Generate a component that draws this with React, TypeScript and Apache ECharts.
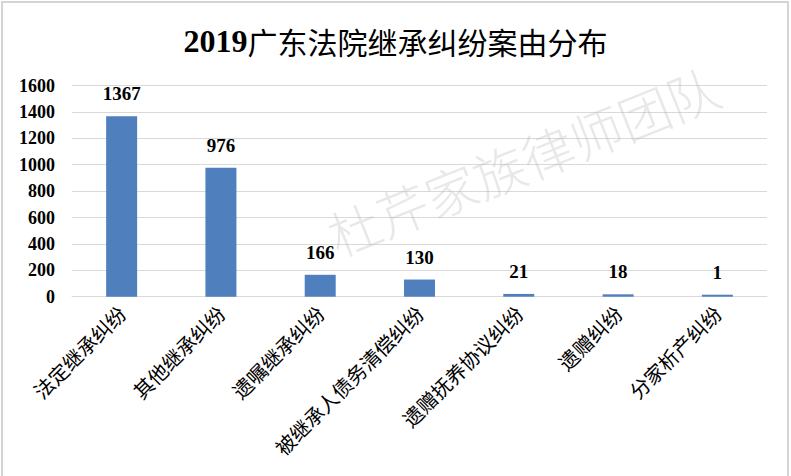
import React, { useEffect, useRef } from "react";
import * as echarts from "echarts";

const categories = ["法定继承纠纷", "其他继承纠纷", "遗嘱继承纠纷", "被继承人债务清偿纠纷", "遗赠抚养协议纠纷", "遗赠纠纷", "分家析产纠纷"];
const values = [1367, 976, 166, 130, 21, 18, 1];
const titleYear = "2019";
const titleRest = "广东法院继承纠纷案由分布";
const watermark = "杜芹家族律师团队";

export default function App() {
  const ref = useRef<HTMLDivElement>(null);
  useEffect(() => {
    if (!ref.current) return;
    const chart = echarts.init(ref.current, null, { renderer: "svg" });
    chart.setOption({
      animation: false,
      backgroundColor: "#ffffff",
      title: {
        text: `{a|${titleYear}}{b|${titleRest}}`,
        left: "center",
        top: 20,
        textStyle: {
          rich: {
            a: { fontFamily: "Liberation Serif", fontWeight: "bold", fontSize: 32, color: "#000" },
            b: { fontFamily: "Noto Sans CJK SC", fontWeight: "normal", fontSize: 30, color: "#000" },
          },
        },
      },
      grid: { left: 72, right: 24, top: 85.5, bottom: 179.3, containLabel: false },
      xAxis: {
        type: "category",
        data: categories,
        axisLine: { show: true, lineStyle: { color: "#d9d9d9", width: 1 } },
        axisTick: { show: false },
        axisLabel: {
          rotate: 45,
          interval: 0,
          margin: 13,
          fontSize: 20,
          color: "#000",
          fontFamily: "Noto Sans CJK SC",
        },
      },
      yAxis: {
        type: "value",
        min: 0,
        max: 1600,
        interval: 200,
        axisLine: { show: false },
        axisTick: { show: false },
        splitLine: { lineStyle: { color: "#d9d9d9", width: 1 } },
        axisLabel: {
          margin: 17,
          fontSize: 18,
          fontWeight: "bold",
          color: "#000",
          fontFamily: "Liberation Serif",
          formatter: (v: number) => String(v),
        },
      },
      series: [
        {
          type: "bar",
          data: values,
          barWidth: 31,
          barMinHeight: 2,
          itemStyle: { color: "#4f7fbd" },
          label: {
            show: true,
            position: "top",
            distance: 13,
            fontSize: 19,
            fontWeight: "bold",
            color: "#000",
            fontFamily: "Liberation Serif",
          },
        },
      ],
      graphic: [
        {
          type: "text",
          x: 523,
          y: 160,
          rotation: 0.38,
          z: 100,
          style: {
            text: watermark,
            fontSize: 52,
            fontFamily: "Noto Sans CJK SC",
            fontWeight: 300,
            fill: "rgba(190,190,190,0.35)",
            textAlign: "center",
            textVerticalAlign: "middle",
          },
        },
        {
          type: "rect",
          z: 100,
          shape: { x: 2, y: 2, width: 786, height: 480 },
          style: { fill: "none", stroke: "#d4d4d4", lineWidth: 2 },
        },
      ],
    });
    return () => chart.dispose();
  }, []);
  return <div ref={ref} style={{ position: "fixed", left: 0, top: 0, width: 791, height: 476 }} />;
}
